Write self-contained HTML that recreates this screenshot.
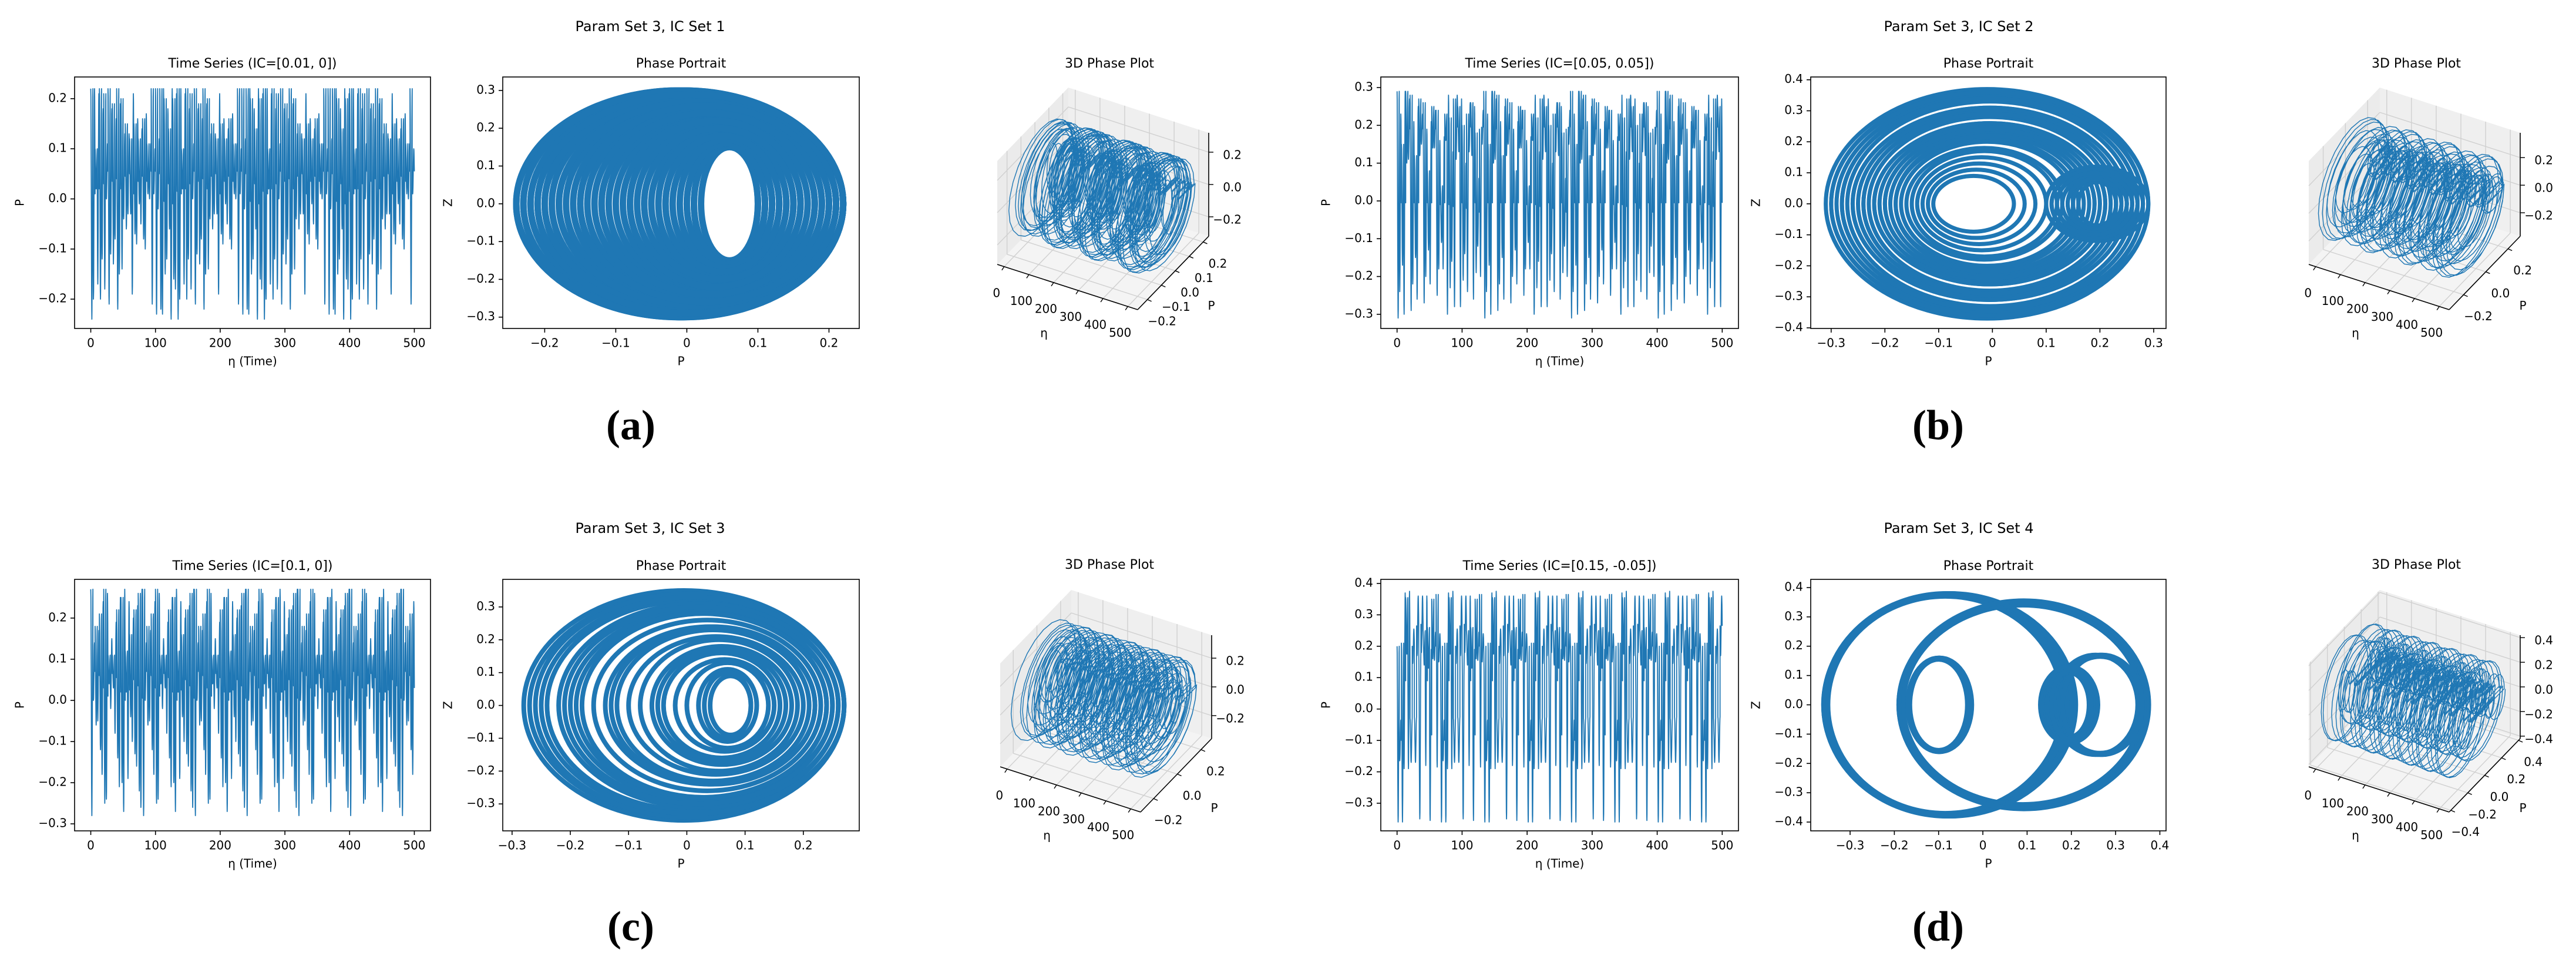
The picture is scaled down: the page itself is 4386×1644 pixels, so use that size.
<!DOCTYPE html>
<html><head><meta charset="utf-8">
<style>
html,body{margin:0;padding:0;background:#fff}
svg{display:block}
text{font-family:"DejaVu Sans","Liberation Sans",sans-serif;fill:#000}
</style></head>
<body>
<svg id="fig" width="4386" height="1644" viewBox="0 0 4386 1644" xmlns="http://www.w3.org/2000/svg"></svg>
<script>
// ===== Data: loop extents read from each phase portrait (P min, P max, Z amplitude) =====
const aPLo=[-0.24,-0.05,-0.18,0.01,-0.22,-0.12,-0.03,-0.20,-0.08,0.00,-0.23,-0.15,-0.06,-0.19,0.02,-0.10,-0.21,-0.02,-0.14,-0.24,-0.07,-0.17,0.01,-0.11,-0.22,-0.04,-0.16,-0.09,-0.20,0.00,-0.13,-0.23,-0.06,-0.18,-0.01,-0.12,-0.21,-0.08,-0.15,-0.03];
const aPHi=[0.22,0.14,0.21,0.10,0.22,0.18,0.12,0.22,0.16,0.11,0.22,0.19,0.14,0.21,0.10,0.17,0.22,0.12,0.20,0.22,0.15,0.21,0.11,0.18,0.22,0.13,0.20,0.16,0.22,0.11,0.19,0.22,0.15,0.21,0.12,0.18,0.22,0.16,0.20,0.13];
const aZ=[0.30,0.19,0.27,0.16,0.29,0.24,0.18,0.29,0.22,0.16,0.30,0.26,0.20,0.28,0.15,0.23,0.29,0.17,0.26,0.30,0.21,0.27,0.16,0.24,0.29,0.19,0.26,0.22,0.28,0.16,0.25,0.30,0.20,0.27,0.17,0.24,0.29,0.22,0.26,0.18];

const bPLo=[-0.31,-0.30,-0.29,-0.28,-0.27,-0.26,-0.25,-0.24,-0.23,-0.22,-0.21,-0.20,-0.19,-0.18,-0.17,-0.16,-0.15,-0.14,-0.13,-0.12,-0.11,-0.30,-0.28,-0.26,-0.24,-0.22,-0.20,-0.18,0.10,0.11,0.12,0.13,0.14,0.15,0.16,0.11,0.13,0.15,0.12,0.14];
const bPHi=[0.29,0.28,0.28,0.27,0.26,0.25,0.24,0.23,0.22,0.21,0.20,0.19,0.18,0.16,0.15,0.13,0.12,0.10,0.08,0.06,0.04,0.29,0.27,0.25,0.23,0.21,0.19,0.17,0.29,0.28,0.27,0.26,0.25,0.24,0.23,0.27,0.25,0.23,0.26,0.24];
const bZ=[0.37,0.36,0.35,0.34,0.33,0.31,0.30,0.29,0.28,0.26,0.25,0.24,0.23,0.21,0.20,0.18,0.17,0.15,0.13,0.11,0.09,0.36,0.34,0.31,0.29,0.26,0.24,0.22,0.12,0.11,0.10,0.09,0.09,0.08,0.07,0.11,0.09,0.08,0.10,0.08];

const cPLo=[-0.28,-0.24,-0.20,-0.16,-0.12,-0.08,-0.04,0.00,0.04,-0.27,-0.22,-0.18,-0.14,-0.10,-0.06,-0.02,0.02,-0.26,-0.25,-0.21,-0.13,-0.05,0.03,-0.19];
const cPHi=[0.27,0.26,0.25,0.23,0.21,0.19,0.16,0.14,0.11,0.27,0.26,0.24,0.22,0.20,0.18,0.15,0.12,0.27,0.27,0.25,0.22,0.17,0.11,0.24];
const cZ=[0.35,0.32,0.29,0.26,0.23,0.20,0.16,0.13,0.09,0.34,0.31,0.28,0.24,0.21,0.18,0.14,0.11,0.34,0.33,0.30,0.24,0.17,0.10,0.28];

const dPLo=[-0.36,-0.19,-0.17,0.17,0.14,-0.355,-0.185,-0.165,0.175,0.145,-0.35,-0.18,0.16,0.15,-0.36,-0.19,-0.17,0.18,0.13,0.155];
const dPHi=[0.20,0.37,-0.03,0.36,0.25,0.19,0.365,-0.035,0.355,0.255,0.18,0.36,0.35,0.24,0.21,0.375,-0.025,0.36,0.26,0.245];
const dZ=[0.38,0.35,0.16,0.17,0.12,0.375,0.345,0.155,0.165,0.125,0.37,0.34,0.17,0.11,0.38,0.355,0.16,0.17,0.13,0.12];

// ===== Tick label arrays =====
const etaTicks=[0,100,200,300,400,500];
const aTsTicks=[-0.2,-0.1,0.0,0.1,0.2];
const bTsTicks=[-0.3,-0.2,-0.1,0.0,0.1,0.2,0.3];
const cTsTicks=[-0.3,-0.2,-0.1,0.0,0.1,0.2];
const dTsTicks=[-0.3,-0.2,-0.1,0.0,0.1,0.2,0.3,0.4];
const aPpX=[-0.2,-0.1,0.0,0.1,0.2];
const aPpY=[-0.3,-0.2,-0.1,0.0,0.1,0.2,0.3];
const bPpX=[-0.3,-0.2,-0.1,0.0,0.1,0.2,0.3];
const bPpY=[-0.4,-0.3,-0.2,-0.1,0.0,0.1,0.2,0.3,0.4];
const cPpX=[-0.3,-0.2,-0.1,0.0,0.1,0.2];
const cPpY=[-0.3,-0.2,-0.1,0.0,0.1,0.2,0.3];
const dPpX=[-0.3,-0.2,-0.1,0.0,0.1,0.2,0.3,0.4];
const dPpY=[-0.4,-0.3,-0.2,-0.1,0.0,0.1,0.2,0.3,0.4];
const a3P=[-0.2,-0.1,0.0,0.1,0.2];
const a3Z=[-0.2,0.0,0.2];
const b3P=[-0.2,0.0,0.2];
const b3Z=[-0.2,0.0,0.2];
const c3P=[-0.2,0.0,0.2];
const c3Z=[-0.2,0.0,0.2];
const d3P=[-0.4,-0.2,0.0,0.2,0.4];
const d3Z=[-0.4,-0.2,0.0,0.2,0.4];

const BLUE='#1f77b4';
const NS='http://www.w3.org/2000/svg';
const svg=document.getElementById('fig');
function mk(tag,attrs,parent){const e=document.createElementNS(NS,tag);for(const k in attrs)e.setAttribute(k,attrs[k]);(parent||svg).appendChild(e);return e;}
function fmt(v){const s=Math.abs(v).toFixed(1);return (v<-1e-9?'\u2212':'')+s;}

const panels=[
 {id:'a',letter:'(a)',sup:'Param Set 3, IC Set 1',supX:1107,supY:46,labX:1074,labY:731,titleY:109,icText:'Time Series (IC=[0.01, 0])',
  pLo:aPLo,pHi:aPHi,zA:aZ,sw:11,
  ts:{x0:127,y0:131,w:606,h:428,ymin:-0.2585,ymax:0.2433,yt:aTsTicks},
  pp:{x0:856,y0:131,w:607,h:428,xmin:-0.259,xmax:0.2426,ymin:-0.330,ymax:0.3357,xt:aPpX,yt:aPpY},
  d3:{ox:1698,oy:450,tx:1889,pmin:-0.27,pmax:0.24,zmin:-0.32,zmax:0.32,pt:a3P,zt:a3Z}},
 {id:'b',letter:'(b)',sup:'Param Set 3, IC Set 2',supX:3335,supY:46,labX:3300,labY:731,titleY:109,icText:'Time Series (IC=[0.05, 0.05])',
  pLo:bPLo,pHi:bPHi,zA:bZ,sw:7,
  ts:{x0:2351,y0:131,w:609,h:428,ymin:-0.3375,ymax:0.328,yt:bTsTicks},
  pp:{x0:3083,y0:131,w:605,h:428,xmin:-0.338,xmax:0.323,ymin:-0.402,ymax:0.409,xt:bPpX,yt:bPpY},
  d3:{ox:3931,oy:450,tx:4114,pmin:-0.33,pmax:0.31,zmin:-0.37,zmax:0.38,pt:b3P,zt:b3Z}},
 {id:'c',letter:'(c)',sup:'Param Set 3, IC Set 3',supX:1107,supY:900,labX:1074,labY:1584,titleY:962,icText:'Time Series (IC=[0.1, 0])',
  pLo:cPLo,pHi:cPHi,zA:cZ,sw:8,
  ts:{x0:127,y0:986,w:606,h:428,ymin:-0.317,ymax:0.294,yt:cTsTicks},
  pp:{x0:856,y0:986,w:607,h:428,xmin:-0.316,xmax:0.296,ymin:-0.382,ymax:0.384,xt:cPpX,yt:cPpY},
  d3:{ox:1703,oy:1305,tx:1889,pmin:-0.31,pmax:0.29,zmin:-0.36,zmax:0.36,pt:c3P,zt:c3Z}},
 {id:'d',letter:'(d)',sup:'Param Set 3, IC Set 4',supX:3335,supY:900,labX:3300,labY:1584,titleY:962,icText:'Time Series (IC=[0.15, -0.05])',
  pLo:dPLo,pHi:dPHi,zA:dZ,sw:8,
  ts:{x0:2351,y0:986,w:609,h:428,ymin:-0.388,ymax:0.413,yt:dTsTicks},
  pp:{x0:3083,y0:986,w:605,h:428,xmin:-0.389,xmax:0.414,ymin:-0.430,ymax:0.428,xt:dPpX,yt:dPpY},
  d3:{ox:3931,oy:1305,tx:4114,pmin:-0.42,pmax:0.42,zmin:-0.42,zmax:0.42,pt:d3P,zt:d3Z}}
];

function txt(parent,x,y,s,size,anchor,name){
 const t=mk('text',{x:x,y:y,'font-size':size,'text-anchor':anchor||'middle','dominant-baseline':'middle'},parent);
 
 
 t.textContent=s;return t;
}

function frameAxes(g,ax,sx,sy,xt,yt,xlabel,ylabel,title,name){
 const fr=mk('rect',{x:ax.x0,y:ax.y0,width:ax.w,height:ax.h,fill:'none',stroke:'#000','stroke-width':1.6},g);
 
 
 xt.forEach(v=>{const x=sx(v);
  const l=mk('line',{x1:x,y1:ax.y0+ax.h,x2:x,y2:ax.y0+ax.h+7,stroke:'#000','stroke-width':1.6},g);
  
  
  txt(g,x,ax.y0+ax.h+26,(Number.isInteger(v)?String(v):fmt(v)),20,'middle',name+'-x-tick-label');});
 yt.forEach(v=>{const y=sy(v);
  const l=mk('line',{x1:ax.x0-7,y1:y,x2:ax.x0,y2:y,stroke:'#000','stroke-width':1.6},g);
  
  
  txt(g,ax.x0-13,y,fmt(v),20,'end',name+'-y-tick-label');});
 txt(g,ax.x0+ax.w/2,ax.y0+ax.h+57,xlabel,20,'middle',name+'-x-axis-title');
 const yl=txt(g,ax.x0-92,ax.y0+ax.h/2,ylabel,20,'middle',name+'-y-axis-title');
 yl.setAttribute('transform','rotate(-90 '+(ax.x0-92)+' '+(ax.y0+ax.h/2)+')');
 txt(g,ax.x0+ax.w/2,ax.y0-22,title,22,'middle',name+'-title');
}

function loopIdx(k,N){return (k*7)%N;}

function drawPanel(p){
 const g=mk('g',{});
 
 
 txt(g,p.supX,p.supY,p.sup,24,'middle','panel-'+p.id+'-suptitle');
 const lab=txt(g,p.labX,p.labY,p.letter,72,'middle','panel-'+p.id+'-caption-label');
 lab.setAttribute('style','font-family:"Liberation Serif",serif;font-weight:bold');

 // ---- Time series ----
 const ts=p.ts;
 const sx=v=>ts.x0+(v+25)/550*ts.w;
 const sy=v=>ts.y0+ts.h-(v-ts.ymin)/(ts.ymax-ts.ymin)*ts.h;
 const N=p.pLo.length, cycles=150, per=500/cycles;
 let d='';
 for(let k=0;k<cycles;k++){
  const i=loopIdx(k,N);const c=(p.pLo[i]+p.pHi[i])/2,h=(p.pHi[i]-p.pLo[i])/2;
  for(let s=0;s<=16;s++){const th=s/16*2*Math.PI;const e=(k+s/16)*per;const P=c+h*Math.cos(th+Math.PI/2*(k%2));
   d+=(k===0&&s===0?'M':'L')+sx(e).toFixed(1)+' '+sy(P).toFixed(1);}
 }
 const tsl=mk('path',{d:d,fill:'none',stroke:BLUE,'stroke-width':1.8,'stroke-linejoin':'round'},g);
 
 
 frameAxes(g,ts,sx,sy,etaTicks,ts.yt,'\u03b7 (Time)','P',p.icText,'panel-'+p.id+'-time-series');

 // ---- Phase portrait ----
 const pp=p.pp;
 const px=v=>pp.x0+(v-pp.xmin)/(pp.xmax-pp.xmin)*pp.w;
 const py=v=>pp.y0+pp.h-(v-pp.ymin)/(pp.ymax-pp.ymin)*pp.h;
 for(let i=0;i<N;i++){
  const c=(p.pLo[i]+p.pHi[i])/2,h=(p.pHi[i]-p.pLo[i])/2;
  const el=mk('ellipse',{cx:px(c),cy:py(0),rx:Math.abs(px(c+h)-px(c)),ry:Math.abs(py(p.zA[i])-py(0)),fill:'none',stroke:BLUE,'stroke-width':p.sw},g);
  
  
 }
 frameAxes(g,pp,px,py,pp.xt,pp.yt,'P','Z','Phase Portrait','panel-'+p.id+'-phase-portrait');

 // ---- 3D plot ----
 const q=p.d3, emin=-28, emax=540, E=[239,77], Pv=[121,-125], Zv=[0,-176];
 const pr=(e,P,Z)=>{const a=(e-emin)/(emax-emin),b=(P-q.pmin)/(q.pmax-q.pmin),c=(Z-q.zmin)/(q.zmax-q.zmin);
  return [q.ox+E[0]*a+Pv[0]*b+Zv[0]*c, q.oy+E[1]*a+Pv[1]*b+Zv[1]*c];};
 const poly=(pts,fill,name)=>{const e=mk('polygon',{points:pts.map(t=>t.join(',')).join(' '),fill:fill,stroke:'none'},g);
  
  };
 poly([pr(emin,q.pmin,q.zmin),pr(emax,q.pmin,q.zmin),pr(emax,q.pmax,q.zmin),pr(emin,q.pmax,q.zmin)],'#f4f4f4','panel-'+p.id+'-3d-floor-pane');
 poly([pr(emin,q.pmax,q.zmin),pr(emax,q.pmax,q.zmin),pr(emax,q.pmax,q.zmax),pr(emin,q.pmax,q.zmax)],'#efefef','panel-'+p.id+'-3d-back-pane');
 poly([pr(emin,q.pmin,q.zmin),pr(emin,q.pmax,q.zmin),pr(emin,q.pmax,q.zmax),pr(emin,q.pmin,q.zmax)],'#ebebeb','panel-'+p.id+'-3d-side-pane');
 const seg=(a,b,col,w,name)=>{const e=mk('line',{x1:a[0],y1:a[1],x2:b[0],y2:b[1],stroke:col,'stroke-width':w},g);
  
  };
 etaTicks.forEach(e=>{seg(pr(e,q.pmin,q.zmin),pr(e,q.pmax,q.zmin),'#d0d0d0',1.4,'panel-'+p.id+'-3d-grid');seg(pr(e,q.pmax,q.zmin),pr(e,q.pmax,q.zmax),'#d0d0d0',1.4,'panel-'+p.id+'-3d-grid');});
 q.pt.forEach(P=>{seg(pr(emin,P,q.zmin),pr(emax,P,q.zmin),'#d0d0d0',1.4,'panel-'+p.id+'-3d-grid');seg(pr(emin,P,q.zmin),pr(emin,P,q.zmax),'#d0d0d0',1.4,'panel-'+p.id+'-3d-grid');});
 q.zt.forEach(Z=>{seg(pr(emin,q.pmax,Z),pr(emax,q.pmax,Z),'#d0d0d0',1.4,'panel-'+p.id+'-3d-grid');seg(pr(emin,q.pmin,Z),pr(emin,q.pmax,Z),'#d0d0d0',1.4,'panel-'+p.id+'-3d-grid');});
 seg(pr(emin,q.pmin,q.zmin),pr(emax,q.pmin,q.zmin),'#000',1.6,'panel-'+p.id+'-3d-eta-axis');
 seg(pr(emax,q.pmin,q.zmin),pr(emax,q.pmax,q.zmin),'#000',1.6,'panel-'+p.id+'-3d-p-axis');
 seg(pr(emax,q.pmax,q.zmin),pr(emax,q.pmax,q.zmax),'#000',1.6,'panel-'+p.id+'-3d-z-axis');
 // trajectory
 let d3='';const c3=130,per3=500/c3;
 for(let k=0;k<c3;k++){const i=loopIdx(k,N);const c=(p.pLo[i]+p.pHi[i])/2,h=(p.pHi[i]-p.pLo[i])/2;
  for(let s=0;s<=24;s++){const th=s/24*2*Math.PI;const pt=pr((k+s/24)*per3,c+h*Math.cos(th),p.zA[i]*Math.sin(th));
   d3+=(k===0&&s===0?'M':'L')+pt[0].toFixed(1)+' '+pt[1].toFixed(1);}}
 const tr=mk('path',{d:d3,fill:'none',stroke:BLUE,'stroke-width':1.4},g);
 
 
 etaTicks.forEach(e=>{const t=pr(e,q.pmin,q.zmin);seg(t,[t[0]-4,t[1]+6],'#000',1.4,'panel-'+p.id+'-3d-eta-tick');
  txt(g,t[0]-13,t[1]+46,String(e),20,'middle','panel-'+p.id+'-3d-eta-tick-label');});
 q.pt.forEach(P=>{const t=pr(emax,P,q.zmin);seg(t,[t[0]+7,t[1]+3],'#000',1.4,'panel-'+p.id+'-3d-p-tick');
  txt(g,t[0]+25,t[1]+38,fmt(P),20,'middle','panel-'+p.id+'-3d-p-tick-label');});
 q.zt.forEach(Z=>{const t=pr(emax,q.pmax,Z);seg(t,[t[0]+8,t[1]],'#000',1.4,'panel-'+p.id+'-3d-z-tick');
  txt(g,t[0]+56,t[1]+6,fmt(Z),20,'end','panel-'+p.id+'-3d-z-tick-label');});
 const el=pr(emin+0.35*(emax-emin),q.pmin,q.zmin);
 txt(g,el[0]-4,el[1]+91,'\u03b7',20,'middle','panel-'+p.id+'-3d-eta-label');
 const pl=pr(emax,(q.pmin+q.pmax)/2,q.zmin);
 txt(g,pl[0]+65,pl[1]+57,'P',20,'middle','panel-'+p.id+'-3d-p-label');
 txt(g,q.tx,p.titleY,'3D Phase Plot',22,'middle','panel-'+p.id+'-3d-title');
}
panels.forEach(drawPanel);
</script>
</body></html>
